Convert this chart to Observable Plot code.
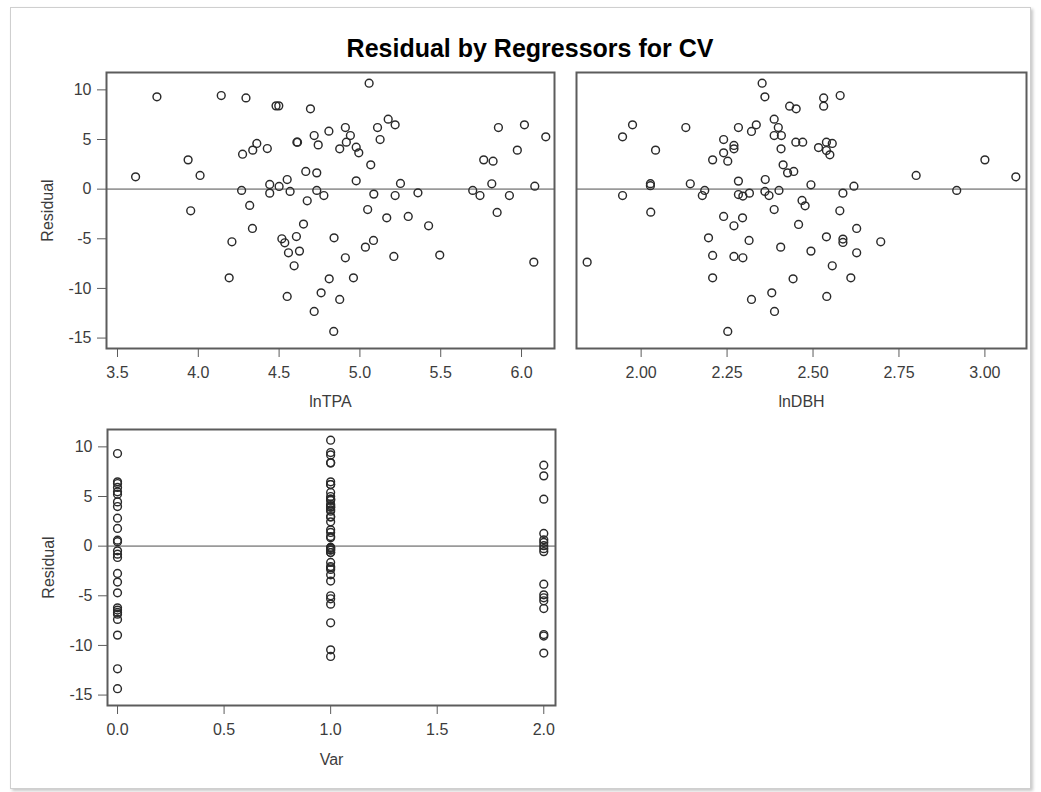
<!DOCTYPE html>
<html>
<head>
<meta charset="utf-8">
<script src="https://cdn.jsdelivr.net/npm/d3@7"></script>
<script src="https://cdn.jsdelivr.net/npm/@observablehq/plot@0.6"></script>
<style>
  html, body { margin: 0; padding: 0; background: #fff; }
  #wrap { position: relative; width: 1041px; height: 792px; overflow: hidden; font-family: "Liberation Sans", Arial, sans-serif; }
  #border { position: absolute; left: 10px; top: 7px; width: 1019px; height: 780px; border: 1px solid #cfcfcf; box-shadow: 2px 2px 3px rgba(0,0,0,0.22); background: #fff; }
  #title { position: absolute; left: 300px; width: 460px; top: 36px; text-align: center; font-weight: bold; font-size: 25px; line-height: 1; color: #000; }
  .panel { position: absolute; }
</style>
</head>
<body>
<div id="wrap">
  <div id="border"></div>
  <div id="title">Residual by Regressors for CV</div>
  <div id="p1" class="panel" style="left:0;top:0"></div>
  <div id="p2" class="panel" style="left:562px;top:0"></div>
  <div id="p3" class="panel" style="left:0;top:420px"></div>
</div>
<script>
// ---- Data ----
const yTicks = [-15, -10, -5, 0, 5, 10];

// Panel 1: Residual vs lnTPA
const tpaX = [3.612,3.744,3.937,4.011,3.953,4.142,4.295,4.191,4.208,4.274,4.337,4.362,4.427,4.268,4.318,4.335,4.481,4.498,4.442,4.442,4.500,4.550,4.568,4.517,4.535,4.558,4.607,4.626,4.651,4.593,4.550,4.610,4.614,4.665,4.674,4.694,4.717,4.742,4.733,4.733,4.777,4.808,4.810,4.760,4.717,4.840,4.838,
  5.057,4.910,4.941,4.916,4.875,4.977,4.993,5.109,5.175,5.218,5.125,5.067,4.977,5.086,5.218,5.251,5.359,5.048,5.166,5.299,5.425,4.910,5.034,5.084,5.210,5.494,4.960,4.875,5.698,5.743,5.766,5.824,5.816,5.857,5.849,5.925,5.974,6.018,6.082,6.076,6.150];
const tpaResid = [1.24,9.30,2.95,1.38,-2.18,9.43,9.19,-8.93,-5.30,3.52,3.93,4.60,4.09,-0.13,-1.64,-3.96,8.39,8.39,0.47,-0.40,0.27,0.97,-0.23,-5.00,-5.40,-6.41,-4.77,-6.24,-3.52,-7.72,-10.81,4.73,4.73,1.78,-1.17,8.09,5.40,4.46,1.64,-0.13,-0.64,5.84,-9.03,-10.44,-12.32,-4.90,-14.33,
  10.67,6.21,5.40,4.73,4.06,4.23,3.66,6.21,7.05,6.48,5.00,2.45,0.84,-0.50,-0.64,0.57,-0.37,-2.05,-2.89,-2.75,-3.69,-6.91,-5.84,-5.17,-6.78,-6.64,-8.93,-11.11,-0.13,-0.64,2.95,2.82,0.54,6.21,-2.35,-0.64,3.93,6.48,0.30,-7.35,5.27];

// Panel 2: Residual vs lnDBH
const dbhX = [1.843,1.946,1.975,1.946,2.042,2.027,2.027,2.028,2.130,2.143,2.178,2.185,2.208,2.240,2.240,2.252,2.270,2.270,2.283,2.283,2.283,2.296,2.315,2.240,2.270,2.295,2.196,2.208,2.208,2.270,2.296,2.314,2.252,2.321,2.321,2.335,2.352,2.360,2.387,2.399,2.387,2.408,2.407,2.361,2.360,2.372,2.401,2.413,2.426,2.444,2.387,2.406,2.380,2.388,2.442,2.432,2.451,2.450,
  2.470,2.531,2.531,2.579,2.516,2.539,2.556,2.539,2.549,2.494,2.587,2.619,2.468,2.477,2.578,2.458,2.539,2.587,2.587,2.627,2.697,2.494,2.627,2.556,2.610,2.540,2.800,2.918,3.000,3.090];
const dbhResid = [-7.35,5.27,6.48,-0.64,3.93,0.55,0.35,-2.32,6.21,0.54,-0.64,-0.13,2.95,5.00,3.66,2.82,4.40,4.06,6.21,0.81,-0.54,-0.70,-0.40,-2.75,-3.69,-2.89,-4.90,-6.68,-8.93,-6.78,-6.91,-5.17,-14.33,-11.11,5.81,6.48,10.67,9.30,7.05,6.21,5.40,5.40,4.06,0.97,-0.23,-0.64,-0.13,2.45,1.64,1.78,-2.05,-5.84,-10.44,-12.32,-9.03,8.36,8.09,4.73,
  4.73,9.19,8.36,9.43,4.19,4.73,4.60,3.89,3.46,0.44,-0.40,0.30,-1.14,-1.68,-2.18,-3.56,-4.80,-5.03,-5.37,-3.96,-5.30,-6.24,-6.41,-7.72,-8.93,-10.81,1.38,-0.13,2.95,1.24];

// Panel 3: Residual vs Var (three levels)
const varLevels = [0, 1, 2];
const var0Resid = [9.33,6.48,6.31,5.91,5.47,5.23,4.46,3.99,2.82,1.78,0.60,0.45,-0.47,-0.81,-1.14,-2.75,-3.62,-4.70,-6.21,-6.44,-6.68,-6.85,-7.38,-8.96,-12.35,-14.36];
const var1Resid = [10.67,9.43,9.19,8.39,8.39,6.48,6.21,6.21,5.40,5.00,4.73,4.73,4.60,4.23,4.09,3.93,3.93,3.66,3.52,2.95,2.95,2.45,1.64,1.38,0.97,0.84,-0.13,-0.13,-0.23,-0.37,-0.40,-0.64,-0.64,-1.64,-2.05,-2.18,-2.35,-2.89,-3.52,-5.00,-5.30,-5.84,-7.72,-10.44,-11.11];
const var2Resid = [8.15,7.08,4.73,1.28,0.64,0.37,0.05,-0.25,-0.55,-3.83,-4.90,-5.20,-5.50,-6.28,-8.90,-9.05,-10.77];

const tpaTicks = [3.5, 4.0, 4.5, 5.0, 5.5, 6.0];
const dbhTicks = [2.00, 2.25, 2.50, 2.75, 3.00];
const varTicks = [0.0, 0.5, 1.0, 1.5, 2.0];

// ---- Build tables ----
const tpaData = tpaX.map((x, i) => ({x, r: tpaResid[i]}));
const dbhData = dbhX.map((x, i) => ({x, r: dbhResid[i]}));
const varData = [var0Resid, var1Resid, var2Resid].flatMap((arr, k) => arr.map(r => ({x: varLevels[k], r})));

const FONT = "'Liberation Sans', Arial, sans-serif";
const TXT = "#3c3c3c";
const yFmt = d => String(d); // plain hyphen-minus, as in the reference

function panel({data, width, height, mt, mr, mb, ml, xDomain, xTicks, xFmt, xLabel, labelOffsetX, showY}) {
  const marks = [
    Plot.ruleY([0], {stroke: "#9a9a9a", strokeWidth: 1.6}),
    Plot.dot(data, {x: "x", y: "r", r: 3.9, stroke: "#2a2a2a", strokeWidth: 1.45, fill: "none"}),
    Plot.frame({stroke: "#5c5c5c", strokeWidth: 2}),
    Plot.axisX({ticks: xTicks, tickFormat: d3.format(xFmt), tickSize: 9, tickPadding: 9, stroke: "#5c5c5c", fill: TXT, fontSize: 16,
      label: xLabel, labelAnchor: "center", labelOffset: labelOffsetX, labelArrow: "none"})
  ];
  if (showY) {
    marks.push(Plot.axisY({ticks: yTicks, tickFormat: yFmt, tickSize: 9, tickPadding: 6, stroke: "#5c5c5c", fill: TXT, fontSize: 16,
      label: "Residual", labelAnchor: "center", labelOffset: 65, labelArrow: "none"}));
  } else {
    marks.push(Plot.axisY({ticks: [], label: null}));
  }
  return Plot.plot({
    width, height,
    marginTop: mt, marginRight: mr, marginBottom: mb, marginLeft: ml,
    style: {background: "transparent", fontFamily: FONT, fontSize: "16px", color: TXT, overflow: "visible"},
    x: {domain: xDomain},
    y: {domain: [-16.05, 11.75]},
    marks
  });
}

document.getElementById("p1").appendChild(panel({
  data: tpaData, width: 562, height: 420, mt: 72, mr: 8, mb: 72, ml: 106,
  xDomain: [3.432, 6.204], xTicks: tpaTicks, xFmt: ".1f", xLabel: "lnTPA", labelOffsetX: 58, showY: true
}));
document.getElementById("p2").appendChild(panel({
  data: dbhData, width: 479, height: 420, mt: 72, mr: 15, mb: 72, ml: 14,
  xDomain: [1.812, 3.121], xTicks: dbhTicks, xFmt: ".2f", xLabel: "lnDBH", labelOffsetX: 58, showY: false
}));
document.getElementById("p3").appendChild(panel({
  data: varData, width: 562, height: 372, mt: 9, mr: 7, mb: 87, ml: 107,
  xDomain: [-0.047, 2.055], xTicks: varTicks, xFmt: ".1f", xLabel: "Var", labelOffsetX: 59, showY: true
}));
</script>
</body>
</html>
